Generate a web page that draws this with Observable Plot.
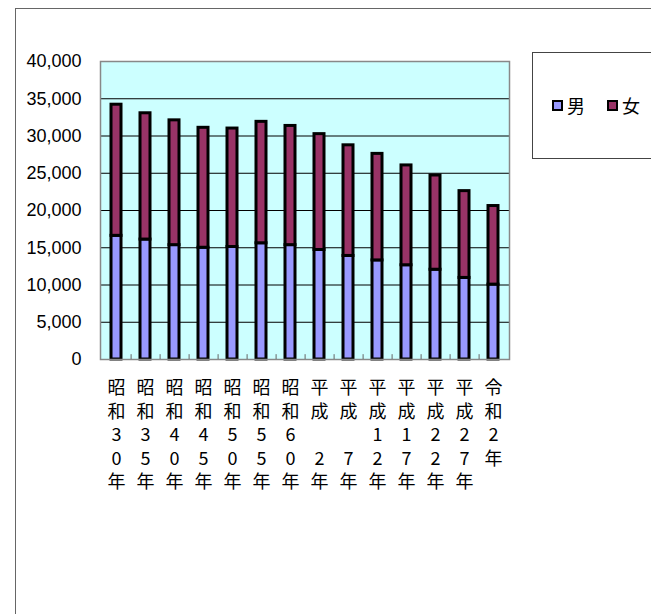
<!DOCTYPE html>
<html>
<head>
<meta charset="utf-8">
<script src="https://cdn.jsdelivr.net/npm/d3@7"></script>
<script src="https://cdn.jsdelivr.net/npm/@observablehq/plot@0.6"></script>
<style>
  html, body { margin: 0; padding: 0; background: #fff; }
  #wrap { position: relative; width: 651px; height: 614px; overflow: hidden; }
  #frame { position: absolute; left: 15px; top: 8px; width: 700px; height: 700px; border: 1px solid #666; box-sizing: border-box; }
  #legend { position: absolute; left: 532px; top: 52px; width: 200px; height: 107px; border: 1px solid #444; box-sizing: border-box; background: #fff;
    font-family: "Noto Sans CJK JP", sans-serif; font-size: 18px; color: #000; }
  .item { position: absolute; top: 40px; display: flex; align-items: center; }
  .sw { width: 7px; height: 7px; border: 2px solid #000; margin-right: 4px; }
  #chart { position: absolute; left: 0; top: 0; }
</style>
</head>
<body>
<div id="wrap">
  <div id="frame"></div>
  <div id="chart"></div>
  <div id="legend"></div>
</div>
<script>
const categories = ["昭和30年","昭和35年","昭和40年","昭和45年","昭和50年","昭和55年","昭和60年","平成 2年","平成 7年","平成12年","平成17年","平成22年","平成27年","令和2年"];
const male   = [16600, 16100, 15350, 15000, 15100, 15600, 15350, 14700, 13900, 13300, 12650, 12050, 10950, 10050];
const female = [17600, 16950, 16750, 16100, 15900, 16300, 16000, 15550, 14850, 14300, 13400, 12650, 11650, 10550];
const seriesNames = ["男", "女"];
const seriesColors = ["#9999FF", "#993366"];
const yTicks = [0, 5000, 10000, 15000, 20000, 25000, 30000, 35000, 40000];

const data = [];
categories.forEach((c, i) => {
  data.push({year: c, sex: seriesNames[0], value: male[i]});
  data.push({year: c, sex: seriesNames[1], value: female[i]});
});

const font = "'Liberation Sans', 'Noto Sans CJK JP', sans-serif";
const cjk = "'Noto Sans CJK JP', sans-serif";

// vertical (one character per row) category labels, drawn as one x axis per row
const maxRows = d3.max(categories, c => Array.from(c).length);
const labelRows = d3.range(maxRows).map(r =>
  Plot.axisX({tickSize: 0, tickPadding: 22 + r * 23.5, fontSize: 18, fontFamily: cjk, label: null,
    textAnchor: "middle", lineAnchor: "top",
    tickFormat: d => (Array.from(d)[r] || "").trim()})
);

const chart = Plot.plot({
  width: 651,
  height: 614,
  marginLeft: 100,
  marginRight: 142,
  marginTop: 61,
  marginBottom: 255,
  style: {fontFamily: font, fontSize: "18px", background: "transparent", color: "#000"},
  x: {domain: categories, paddingInner: 0.64, paddingOuter: 0.32, axis: null, label: null},
  y: {domain: [0, 40000], axis: null, label: null},
  color: {domain: seriesNames, range: seriesColors},
  marks: [
    Plot.frame({fill: "#CCFFFF", stroke: null}),
    Plot.gridY(yTicks.filter(t => t > 0 && t < 40000), {stroke: "#000", strokeOpacity: 1, strokeWidth: 1}),
    Plot.barY(data, {x: "year", y: "value", fill: "sex", stroke: "#000", strokeWidth: 3, order: null}),
    Plot.frame({stroke: "#888", strokeWidth: 1.5}),
    Plot.ruleX(categories.slice(0, -1), {x: d => d, y1: 0, y2: 650, dx: 14.6, stroke: "#666"}),
    Plot.axisY({ticks: yTicks, tickFormat: d3.format(","), tickSize: 0, tickPadding: 19, fontSize: 18, fontFamily: font, label: null}),
    ...labelRows
  ]
});
document.getElementById("chart").appendChild(chart);

const legend = document.getElementById("legend");
const pos = [19, 74];
seriesNames.forEach((n, i) => {
  const it = document.createElement("div");
  it.className = "item";
  it.style.left = pos[i] + "px";
  it.style.top = "39px";
  const sw = document.createElement("span");
  sw.className = "sw";
  sw.style.background = seriesColors[i];
  const tx = document.createElement("span");
  tx.textContent = n;
  it.appendChild(sw);
  it.appendChild(tx);
  legend.appendChild(it);
});
</script>
</body>
</html>
